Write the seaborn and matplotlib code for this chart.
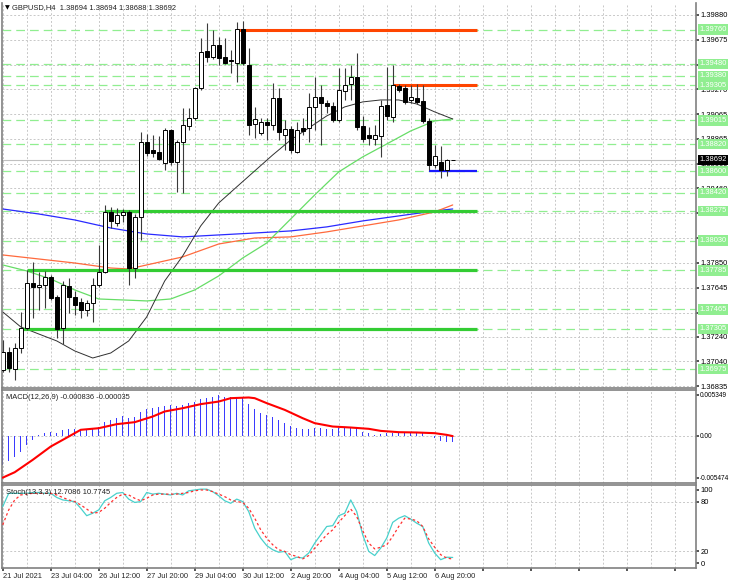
import numpy as np
import matplotlib
matplotlib.use("Agg")
import matplotlib.pyplot as plt
import matplotlib.transforms as mtransforms
import seaborn as sns

# --- DATA (GBPUSD H4) ---
opens = [1.36969, 1.37117, 1.36977, 1.37149, 1.37313, 1.37682, 1.37650, 1.37666, 1.37732, 1.37568,
         1.37313, 1.37658, 1.37568, 1.37527, 1.37461, 1.37518, 1.37666, 1.37773, 1.38265, 1.38174,
         1.38240, 1.38265, 1.37805, 1.38224, 1.38839, 1.38773, 1.38757, 1.38666, 1.38937, 1.38675,
         1.38839, 1.38970, 1.39035, 1.39281, 1.39585, 1.39536, 1.39634, 1.39536, 1.39511, 1.39486,
         1.39765, 1.39470, 1.38986, 1.38912, 1.39003, 1.38978, 1.39199, 1.38896, 1.38945, 1.38757,
         1.38953, 1.38953, 1.39126, 1.39208, 1.39158, 1.39134, 1.39019, 1.39257, 1.39314, 1.39372,
         1.38970, 1.38896, 1.38863, 1.38888, 1.39142, 1.39044, 1.39298, 1.39281, 1.39183, 1.39199,
         1.39175, 1.39011, 1.38650, 1.38675, 1.38609, 1.38694]
highs = [1.37215, 1.37158, 1.37190, 1.37445, 1.37789, 1.37855, 1.37773, 1.37781, 1.37748, 1.37584,
         1.37699, 1.37723, 1.37617, 1.37559, 1.37543, 1.37723, 1.37994, 1.38322, 1.38306, 1.38297,
         1.38289, 1.38281, 1.38248, 1.38921, 1.38904, 1.38896, 1.38888, 1.38953, 1.38945, 1.38855,
         1.39117, 1.39117, 1.39290, 1.39691, 1.39814, 1.39757, 1.39700, 1.39691, 1.39593, 1.39823,
         1.39831, 1.39609, 1.39126, 1.39035, 1.39035, 1.39322, 1.39281, 1.39019, 1.38970, 1.39003,
         1.39035, 1.39240, 1.39372, 1.39306, 1.39183, 1.39167, 1.39445, 1.39445, 1.39470, 1.39568,
         1.39052, 1.38962, 1.38978, 1.39183, 1.39454, 1.39470, 1.39314, 1.39306, 1.39306, 1.39314,
         1.39306, 1.39035, 1.38814, 1.38806, 1.38699, 1.38694]
lows = [1.36953, 1.36953, 1.36887, 1.37108, 1.37297, 1.37395, 1.37461, 1.37477, 1.37543, 1.37231,
        1.37182, 1.37436, 1.37420, 1.37395, 1.37412, 1.37363, 1.37650, 1.37764, 1.38133, 1.38150,
        1.38183, 1.37666, 1.37723, 1.38035, 1.38724, 1.38716, 1.38691, 1.38609, 1.38650, 1.38429,
        1.38420, 1.38937, 1.39019, 1.39265, 1.39495, 1.39519, 1.39470, 1.39478, 1.39404, 1.39331,
        1.39470, 1.38896, 1.38871, 1.38896, 1.38855, 1.38937, 1.38855, 1.38773, 1.38748, 1.38748,
        1.38896, 1.38839, 1.38937, 1.38814, 1.39076, 1.39003, 1.39003, 1.39183, 1.39183, 1.38937,
        1.38839, 1.38814, 1.38814, 1.38716, 1.39019, 1.39003, 1.39249, 1.39150, 1.39158, 1.39150,
        1.38994, 1.38609, 1.38625, 1.38543, 1.38560, 1.38688]
closes = [1.37117, 1.36985, 1.37149, 1.37313, 1.37682, 1.37650, 1.37666, 1.37732, 1.37559, 1.37305,
          1.37666, 1.37568, 1.37502, 1.37461, 1.37518, 1.37666, 1.37773, 1.38265, 1.38191, 1.38240,
          1.38265, 1.37805, 1.38224, 1.38839, 1.38748, 1.38748, 1.38699, 1.38937, 1.38675, 1.38839,
          1.38978, 1.39035, 1.39281, 1.39577, 1.39536, 1.39634, 1.39527, 1.39486, 1.39503, 1.39765,
          1.39486, 1.38978, 1.39027, 1.39003, 1.38978, 1.39199, 1.38921, 1.38945, 1.38773, 1.38937,
          1.38929, 1.39126, 1.39208, 1.39158, 1.39134, 1.39019, 1.39265, 1.39306, 1.39372, 1.38962,
          1.38863, 1.38871, 1.38896, 1.39134, 1.39052, 1.39306, 1.39265, 1.39167, 1.39208, 1.39167,
          1.39011, 1.38650, 1.38724, 1.38609, 1.38691, 1.38692]

# moving averages (sampled bars)
ma_black_bars = [0, 3, 6, 9, 12, 15, 18, 21, 24, 27, 30, 33, 36, 39, 42, 45, 48, 51, 54, 57, 60, 63, 66, 69, 72, 75]
ma_black = [1.37445, 1.37322, 1.37264, 1.37207, 1.37125, 1.37067, 1.37108, 1.37207, 1.37404, 1.37699,
            1.37904, 1.38150, 1.38338, 1.38470, 1.38601, 1.38732, 1.38855, 1.38953, 1.39052, 1.39126,
            1.39167, 1.39183, 1.39183, 1.39150, 1.39085, 1.39027]
ma_green_bars = [0, 4, 8, 12, 16, 20, 24, 28, 32, 36, 40, 44, 48, 52, 56, 60, 64, 68, 72, 75]
ma_green = [1.37830, 1.37781, 1.37715, 1.37625, 1.37551, 1.37543, 1.37535, 1.37551, 1.37625, 1.37740,
            1.37887, 1.38010, 1.38207, 1.38404, 1.38593, 1.38716, 1.38822, 1.38929, 1.39011, 1.39027]
ma_orange_bars = [0, 6, 12, 18, 21, 24, 30, 36, 42, 48, 54, 60, 66, 72, 75]
ma_orange = [1.37912, 1.37879, 1.37846, 1.37805, 1.37797, 1.37830, 1.37896, 1.38002, 1.38051, 1.38060,
             1.38101, 1.38150, 1.38199, 1.38265, 1.38322]
ma_blue_bars = [0, 6, 12, 18, 24, 30, 36, 42, 48, 54, 60, 66, 72, 75]
ma_blue = [1.38289, 1.38248, 1.38199, 1.38133, 1.38084, 1.38060, 1.38076, 1.38092, 1.38109, 1.38142,
           1.38191, 1.38232, 1.38273, 1.38289]

# horizontal levels
level_prices = [1.39760, 1.39480, 1.39380, 1.39305, 1.39015, 1.38820, 1.38600, 1.38420,
                1.38275, 1.38030, 1.37785, 1.37465, 1.37305, 1.36975]
orange_lines = [(1.39760, 39), (1.39305, 65)]
blue_lines = [(1.38600, 71)]
green_lines = [(1.38275, 17), (1.37785, 4), (1.37305, 3)]
line_end_bar = 79
bid = 1.38692
price_ticks = [1.39880, 1.39675, 1.39470, 1.39270, 1.39065, 1.38865, 1.38660, 1.38460,
               1.38255, 1.38050, 1.37850, 1.37645, 1.37440, 1.37240, 1.37040, 1.36835]

# MACD(12,26,9)
macd_hist = [-0.003796, -0.003272, -0.002705, -0.002051, -0.001178, -0.000524,
             0.00005, 0.000349, 0.000567, 0.000436, 0.000785, 0.000916, 0.000916, 0.000873, 0.000916, 0.001091,
             0.001222, 0.001789, 0.002094, 0.002312, 0.002618, 0.0024, 0.002531, 0.003185, 0.00349, 0.003709,
             0.003839, 0.00397, 0.004058, 0.00397, 0.004058, 0.004276, 0.004407, 0.004799, 0.00493, 0.005148,
             0.005349, 0.005148, 0.005061, 0.005148, 0.005017, 0.004145, 0.003534, 0.002967, 0.002749, 0.002443,
             0.002094, 0.001658, 0.001309, 0.001091, 0.000916, 0.000916, 0.001003, 0.001091, 0.000916, 0.000873,
             0.001003, 0.001003, 0.001091, 0.001003, 0.00048, 0.000349, 0.000131, 0.000218, 0.000349, 0.000436,
             0.00048, 0.000436, 0.000349, 0.000349, 0.000349, -0.00002, -0.000305, -0.000654, -0.000742, -0.000836]
macd_sig_bars = [0, 2, 5, 8, 11, 13, 16, 19, 22, 25, 27, 30, 33, 36, 38, 41, 42, 44, 47, 50,
                 52, 55, 58, 61, 63, 66, 69, 72, 74, 75]
macd_sig = [-0.00547, -0.00476, -0.00314, -0.00140, -0.00009, 0.00079, 0.00100, 0.00153, 0.00179, 0.00253,
            0.00319, 0.00362, 0.00415, 0.00449, 0.00493, 0.00502, 0.00493, 0.00428, 0.00340, 0.00231,
            0.00166, 0.00122, 0.00109, 0.00092, 0.00065, 0.00048, 0.00044, 0.00035, 0.00013, -0.000035]

# Stochastic(13,3,3)
stoch_main = [74, 90, 90, 90, 90, 91, 91, 90, 90, 85, 82, 81, 80, 72, 63, 66, 70, 81, 85, 90,
              91, 83, 79, 80, 91, 89, 90, 89, 88, 90, 88, 93, 94, 95, 95, 92, 87, 81, 78, 83,
              80, 68, 48, 36, 27, 22, 19, 20, 10, 13, 12, 18, 30, 40, 50, 51, 63, 66, 82, 68,
              40, 20, 15, 24, 36, 55, 60, 63, 59, 54, 50, 30, 18, 10, 13, 12.7086]
stoch_sig = [52, 70, 82, 88, 89, 90, 90, 90, 90, 88, 85, 82, 80, 76, 71, 66, 67, 72, 79, 85,
             89, 88, 84, 81, 84, 88, 89, 89, 89, 89, 90, 91, 93, 94, 94, 92, 89, 86, 82, 80,
             79, 72, 60, 46, 36, 28, 22, 20, 16, 14, 11, 15, 24, 32, 40, 46, 55, 63, 71, 62,
             45, 30, 23, 25, 28, 38, 50, 60, 59, 57, 50, 35, 25, 16, 12, 10.7745]

time_labels = ["21 Jul 2021", "23 Jul 04:00", "26 Jul 12:00", "27 Jul 20:00", "29 Jul 04:00",
               "30 Jul 12:00", "2 Aug 20:00", "4 Aug 04:00", "5 Aug 12:00", "6 Aug 20:00"]

# --- STYLE ---
sns.set_theme(style="white")
plt.rcParams['font.family'] = ['Liberation Sans Narrow', 'Liberation Sans', 'DejaVu Sans']
FS = 5.4
GRID = dict(color='#c8c8c8', linestyle=(0, (2, 2)), linewidth=0.7)
W, H = 730, 584

fig = plt.figure(figsize=(W / 100, H / 100), dpi=100)
fig.patch.set_facecolor('white')


def panel(top, bottom):
    return fig.add_axes([2 / W, (H - bottom) / H, 694 / W, (bottom - top) / H])


ax = panel(3, 388)
ax_macd = panel(390, 483)
ax_sto = panel(485, 568)

x = np.arange(len(opens))
XMAX = 115.55
for a in (ax, ax_macd, ax_sto):
    a.set_facecolor('white')
    a.set_xlim(-0.12, XMAX)
    a.set_xticks(np.arange(0, 116, 8))
    a.set_xticks(np.arange(4, 116, 8), minor=True)
    a.grid(True, axis='x', which='both', **GRID)
    a.yaxis.tick_right()
    a.tick_params(axis='y', which='both', labelsize=FS, pad=0.8, length=2.5, color='#404040',
                  labelcolor='black', left=False, right=True)
    a.tick_params(axis='x', which='both', bottom=False, labelbottom=False)
    for s in a.spines.values():
        s.set_color('#808080')
        s.set_linewidth(1.2)
    a.set_axisbelow(True)

# --- MAIN PRICE PANEL ---
ax.set_ylim(1.36821, 1.39978)
ax.set_yticks(price_ticks)
ax.set_yticklabels([f"{p:.5f}" for p in price_ticks])
ax.grid(True, axis='y', **GRID)
ax.spines['top'].set_visible(False)

for p in level_prices:
    ax.axhline(p, color='#90ee90', lw=0.9, ls=(0, (7, 4)), zorder=1)
ax.axhline(bid, color='#c0c0c0', lw=0.8, zorder=1)

sns.lineplot(x=ma_blue_bars, y=ma_blue, ax=ax, color='#2a2aff', lw=0.9, zorder=2)
sns.lineplot(x=ma_orange_bars, y=ma_orange, ax=ax, color='#ff6a3d', lw=0.9, zorder=2)
sns.lineplot(x=ma_green_bars, y=ma_green, ax=ax, color='#66dd66', lw=0.9, zorder=2)
sns.lineplot(x=ma_black_bars, y=ma_black, ax=ax, color='#303030', lw=0.7, zorder=2)

for p, s in green_lines:
    ax.hlines(p, s, line_end_bar, color='#33cc33', lw=2.3, zorder=2.5)
for p, s in orange_lines:
    ax.hlines(p, s, line_end_bar, color='#ff4500', lw=2.2, zorder=2.5)
for p, s in blue_lines:
    ax.hlines(p, s, line_end_bar, color='#1a1aff', lw=1.6, zorder=2.5)

o, c = np.array(opens), np.array(closes)
body_lo = np.minimum(o, c)
body_h = np.maximum(np.abs(c - o), 0.00001)
ax.vlines(x, lows, highs, color='#3a3a3a', lw=0.8, zorder=3)
ax.bar(x, body_h, bottom=body_lo, width=0.6, color=np.where(c >= o, 'white', 'black'),
       edgecolor='black', linewidth=0.7, zorder=4)
ax.set_xlabel('')
ax.set_ylabel('')

blend = mtransforms.blended_transform_factory(ax.transAxes, ax.transData)
for p in level_prices:
    ax.text(1.005, p, f"{p:.5f}", transform=blend, ha='left', va='center', fontsize=FS,
            color='white', zorder=10, clip_on=False,
            bbox=dict(boxstyle='square,pad=0.22', fc='#90ee90', ec='none'))
ax.text(1.005, bid, f"{bid:.5f}", transform=blend, ha='left', va='center', fontsize=FS,
        color='white', zorder=11, clip_on=False,
        bbox=dict(boxstyle='square,pad=0.22', fc='black', ec='none'))
ax.text(0.004, 0.987, "\u25BC", transform=ax.transAxes, ha='left', va='center', fontsize=4.5,
        family='DejaVu Sans', color='black')
ax.text(0.015, 0.987, "GBPUSD,H4  1.38694 1.38694 1.38688 1.38692", transform=ax.transAxes,
        ha='left', va='center', fontsize=FS, color='#202020')

# --- MACD PANEL ---
ax_macd.set_ylim(-0.00617, 0.0060)
ax_macd.bar(x, macd_hist, width=0.22, color='#3a3aff', linewidth=0, zorder=2)
sns.lineplot(x=macd_sig_bars, y=macd_sig, ax=ax_macd, color='#ff0000', lw=1.5, zorder=3)
ax_macd.axhline(0, **GRID, zorder=1)
ax_macd.set_yticks([0.005349, 0.0, -0.005474])
ax_macd.set_yticklabels(['0.005349', '0.00', '-0.005474'])
ax_macd.tick_params(axis='y', labelsize=4.7, pad=0.5)
ax_macd.set_xlabel('')
ax_macd.set_ylabel('')
ax_macd.text(0.006, 0.914, "MACD(12,26,9) -0.000836 -0.000035", transform=ax_macd.transAxes,
             ha='left', va='center', fontsize=FS, color='#202020')

# --- STOCHASTIC PANEL ---
ax_sto.set_ylim(0, 100)
ax_sto.axhline(80, **GRID, zorder=1)
ax_sto.axhline(20, **GRID, zorder=1)
sns.lineplot(x=x, y=stoch_main, ax=ax_sto, color='#48d1cc', lw=0.9, zorder=3)
sns.lineplot(x=x, y=stoch_sig, ax=ax_sto, color='#ff3030', lw=0.9, linestyle=(0, (2, 2)), zorder=3)
ax_sto.set_yticks([94, 80, 20, 6])
ax_sto.set_yticklabels(['100', '80', '20', '0'])
ax_sto.set_xlabel('')
ax_sto.set_ylabel('')
ax_sto.text(0.006, 0.907, "Stoch(13,3,3) 12.7086 10.7745", transform=ax_sto.transAxes,
            ha='left', va='center', fontsize=FS, color='#202020')

ax_sto.tick_params(axis='x', which='major', bottom=True, labelbottom=True, length=2,
                   pad=1.5, labelsize=FS, color='#404040')
ax_sto.set_xticklabels(time_labels + [''] * (len(np.arange(0, 116, 8)) - len(time_labels)))
for lab in ax_sto.get_xticklabels():
    lab.set_ha('left')

fig.savefig('out.png', dpi=100, facecolor='white')
